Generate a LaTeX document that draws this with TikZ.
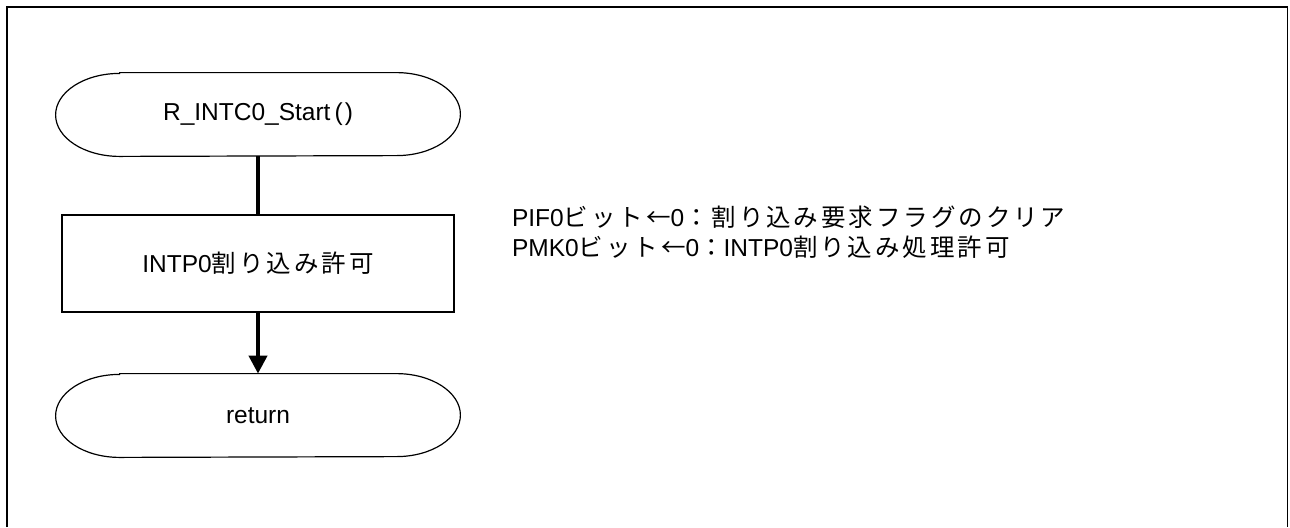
\documentclass[tikz,border=0pt]{standalone}
\usepackage{fontspec}
\setmainfont{Liberation Sans}
\newfontfamily\jpfont[LetterSpace=12]{Noto Sans CJK JP}
\newcommand{\jp}[1]{{\jpfont #1}}
\usetikzlibrary{positioning,arrows.meta}

\tikzset{
  terminal/.style={minimum width=202pt, minimum height=41.5pt, inner sep=0pt},
  process/.style={draw, line width=0.6pt, minimum width=196pt, minimum height=48.5pt, inner sep=0pt},
  flow/.style={line width=2pt},
  note/.style={inner sep=0pt, align=left},
}

\begin{document}
\begin{tikzpicture}[font=\fontsize{12.25pt}{15pt}\selectfont]
            \useasboundingbox (0,0) rectangle (645pt,-263.5pt);
            \draw[line width=0.9pt] (3.5pt,-263.5pt) -- (3.5pt,-3.5pt) -- (643.75pt,-3.5pt) -- (643.75pt,-263.5pt);

            \node[terminal]                        (start)  at (129pt,-57.25pt) {R\_INTC0\_Start\,(\kern1pt)};
            \node[process, below=29pt of start]    (enable) {INTP0\jp{割り込み許可}};
            \node[terminal, below=30.5pt of enable] (return) {return};
            \node[note, right=28.5pt of enable, yshift=15.75pt] (regs)
              {PIF0\jp{ビット←}0\jp{：割り込み要求フラグのクリア}\\
               PMK0\jp{ビット←}0\jp{：}INTP0\jp{割り込み処理許可}};

            % terminal outlines
            \foreach \t in {start,return}
              \draw[line width=0.6pt] ([xshift=32pt]\t.north west) -- ([xshift=-32pt]\t.north east)
                arc[start angle=90, end angle=-90, x radius=32pt, y radius=20.75pt]
                -- ([xshift=32pt]\t.south west)
                arc[start angle=270, end angle=90, x radius=32pt, y radius=20.75pt] -- cycle;

            \draw[flow] (start) -- (enable);
            \draw[flow, -{Triangle[length=9pt,width=9pt]}] (enable) -- (return);

\end{tikzpicture}
\end{document}
